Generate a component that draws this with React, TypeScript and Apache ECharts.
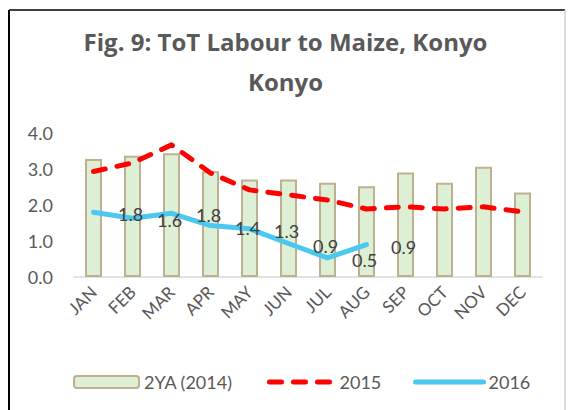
import React, { useEffect, useRef } from "react";
import * as echarts from "echarts";

const months = ["JAN", "FEB", "MAR", "APR", "MAY", "JUN", "JUL", "AUG", "SEP", "OCT", "NOV", "DEC"];
const ya2014 = [3.28, 3.37, 3.44, 2.94, 2.71, 2.71, 2.62, 2.52, 2.9, 2.62, 3.06, 2.35];
const y2015 = [2.93, 3.17, 3.67, 2.89, 2.42, 2.28, 2.14, 1.89, 1.95, 1.89, 1.95, 1.81];
const y2016 = [1.8, 1.63, 1.77, 1.43, 1.34, 0.93, 0.53, 0.9];
const yTicks = { min: 0, max: 4, interval: 1 };
const titleText = "Fig. 9: ToT Labour to Maize, Konyo\nKonyo";

const FONT = "Lato";
const GRAY = "#595959";

export default function App() {
  const ref = useRef<HTMLDivElement>(null);
  useEffect(() => {
    if (!ref.current) return;
    const chart = echarts.init(ref.current, null, { renderer: "svg" });
    const gridLeft = 74;
    const gridRight = 29;
    const catW = (571 - gridLeft - gridRight) / months.length;
    chart.setOption({
      animation: false,
      backgroundColor: "#ffffff",
      textStyle: { fontFamily: FONT },
      title: {
        text: titleText,
        left: "center",
        top: 16,
        textStyle: { fontFamily: "Open Sans", fontSize: 24, fontWeight: "bold", color: GRAY, lineHeight: 40 },
      },
      graphic: [
        { type: "line", shape: { x1: 9, y1: 10, x2: 9, y2: 410 }, style: { stroke: "#000", lineWidth: 2 } },
        { type: "line", shape: { x1: 9, y1: 10, x2: 565, y2: 10 }, style: { stroke: "#000", lineWidth: 1.5 } },
        { type: "line", shape: { x1: 565, y1: 10, x2: 565, y2: 410 }, style: { stroke: "#d0d0d0", lineWidth: 1.5 } },
      ],
      grid: { left: gridLeft, right: gridRight, top: 133, bottom: 133, containLabel: false },
      legend: [
        {
          left: 68, top: 368, itemWidth: 65, itemHeight: 12,
          textStyle: { fontFamily: FONT, fontSize: 18, color: GRAY, lineHeight: 18 },
          data: [{ name: "2YA (2014)" }],
        },
        {
          left: 262, top: 368, itemWidth: 65, itemHeight: 14,
          itemStyle: { color: "rgba(0,0,0,0)", borderColor: "rgba(0,0,0,0)", borderWidth: 0 },
          lineStyle: { color: "#FF0000", width: 5, type: [12, 12], cap: "round" },
          textStyle: { fontFamily: FONT, fontSize: 18, color: GRAY, lineHeight: 18 },
          data: [{ name: "2015" }],
        },
        {
          left: 408, top: 368, itemWidth: 68, itemHeight: 14,
          itemStyle: { color: "rgba(0,0,0,0)", borderColor: "rgba(0,0,0,0)", borderWidth: 0 },
          lineStyle: { color: "#4BC8F0", width: 5, cap: "round" },
          textStyle: { fontFamily: FONT, fontSize: 18, color: GRAY, lineHeight: 18 },
          data: [{ name: "2016" }],
        },
      ],
      xAxis: {
        type: "category",
        data: months,
        boundaryGap: true,
        axisLine: { lineStyle: { color: "#D9D9D9", width: 1.5 } },
        axisTick: { show: false },
        axisLabel: { rotate: 45, fontFamily: FONT, fontSize: 17, color: GRAY, margin: 12, interval: 0 },
      },
      yAxis: {
        type: "value",
        min: yTicks.min,
        max: yTicks.max,
        interval: yTicks.interval,
        splitLine: { show: false },
        axisLine: { show: false },
        axisTick: { show: false },
        axisLabel: { fontFamily: FONT, fontSize: 18, color: GRAY, margin: 21, formatter: (v: number) => v.toFixed(1) },
      },
      series: [
        {
          name: "2YA (2014)",
          type: "bar",
          data: ya2014,
          barWidth: 17,
          itemStyle: { color: "#DDEFD5", borderColor: "#BFB08F", borderWidth: 2 },
          z: 1,
        },
        {
          name: "2015",
          type: "line",
          data: y2015,
          symbol: "none",
          itemStyle: { color: "#FF0000" },
          lineStyle: { color: "#FF0000", width: 5, type: [12, 12], cap: "round", join: "round" },
          z: 3,
        },
        {
          name: "2016",
          type: "line",
          data: y2016,
          symbol: "circle",
          symbolSize: 1,
          itemStyle: { color: "rgba(0,0,0,0)" },
          lineStyle: { color: "#4BC8F0", width: 5, cap: "round", join: "round" },
          label: {
            show: true,
            position: "inside",
            offset: [catW - 2, 2],
            fontFamily: FONT,
            fontSize: 18,
            color: "#404040",
            formatter: (p: any) => Number(p.value).toFixed(1),
          },
          z: 4,
        },
      ],
    });
    return () => chart.dispose();
  }, []);
  return <div ref={ref} style={{ position: "absolute", left: 0, top: 0, width: 571, height: 410 }} />;
}
